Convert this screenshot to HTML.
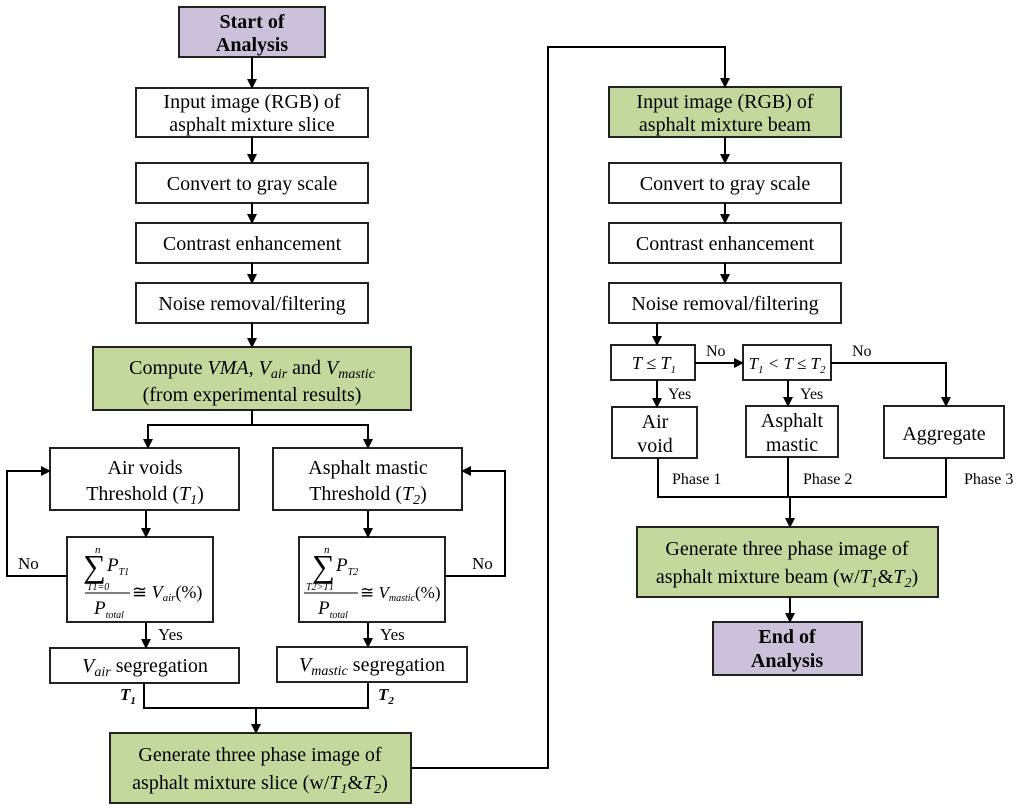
<!DOCTYPE html>
<html><head><meta charset="utf-8"><style>
html,body{margin:0;padding:0;background:#fff}
svg{display:block}
text{font-family:"Liberation Serif",serif;font-size:20px;fill:#000}
.i{font-style:italic}
</style></head><body>
<svg width="1024" height="808" viewBox="0 0 1024 808">
<defs><marker id="a" markerWidth="10" markerHeight="10" refX="9" refY="5" orient="auto" markerUnits="userSpaceOnUse"><path d="M0,0 L10,5 L0,10 z" fill="#000"/></marker></defs>
<g stroke="#222" stroke-width="2" fill="#fff">
<rect x="179" y="7" width="146" height="50" fill="#ccc1db"/>
<rect x="136" y="88" width="232" height="49"/>
<rect x="136" y="163" width="232" height="40"/>
<rect x="136" y="223" width="232" height="40"/>
<rect x="136" y="283" width="232" height="40"/>
<rect x="93" y="347" width="318" height="63" fill="#c4d79c"/>
<rect x="50" y="448" width="189" height="62"/>
<rect x="273" y="448" width="189" height="62"/>
<rect x="67" y="537" width="146" height="85"/>
<rect x="299" y="537" width="146" height="85"/>
<rect x="50" y="648" width="189" height="35"/>
<rect x="277" y="647" width="190" height="35"/>
<rect x="110" y="733" width="301" height="70" fill="#c4d79c"/>
<rect x="609" y="87" width="232" height="50" fill="#c4d79c"/>
<rect x="609" y="163" width="232" height="40"/>
<rect x="609" y="223" width="232" height="40"/>
<rect x="609" y="283" width="232" height="40"/>
<rect x="611" y="345" width="84" height="35"/>
<rect x="743" y="345" width="88" height="35"/>
<rect x="612" y="407" width="85" height="51"/>
<rect x="746" y="406" width="92" height="51"/>
<rect x="884" y="406" width="120" height="52"/>
<rect x="637" y="527" width="301" height="70" fill="#c4d79c"/>
<rect x="713" y="622" width="149" height="53" fill="#ccc1db"/>
</g>
<g stroke="#000" stroke-width="2" fill="none">
<path d="M252 57V88" marker-end="url(#a)"/>
<path d="M252 137V163" marker-end="url(#a)"/>
<path d="M252 203V223" marker-end="url(#a)"/>
<path d="M252 263V283" marker-end="url(#a)"/>
<path d="M252 323V347" marker-end="url(#a)"/>
<path d="M252 410V425H148V448" marker-end="url(#a)"/>
<path d="M252 425H368V448" marker-end="url(#a)"/>
<path d="M146 510V537" marker-end="url(#a)"/>
<path d="M368 510V537" marker-end="url(#a)"/>
<path d="M146 622V648" marker-end="url(#a)"/>
<path d="M368 622V647" marker-end="url(#a)"/>
<path d="M67 576H7V471H50" marker-end="url(#a)"/>
<path d="M445 576H505V471H462" marker-end="url(#a)"/>
<path d="M144 683V708H368V682"/>
<path d="M256 708V733" marker-end="url(#a)"/>
<path d="M411 768H548V47H725V87" marker-end="url(#a)"/>
<path d="M725 137V163" marker-end="url(#a)"/>
<path d="M725 203V223" marker-end="url(#a)"/>
<path d="M725 263V283" marker-end="url(#a)"/>
<path d="M657 323V345" marker-end="url(#a)"/>
<path d="M695 363H743" marker-end="url(#a)"/>
<path d="M657 380V407" marker-end="url(#a)"/>
<path d="M788 380V406" marker-end="url(#a)"/>
<path d="M831 363H946V406" marker-end="url(#a)"/>
<path d="M658 458V497H946V458"/>
<path d="M788 457V497"/>
<path d="M790 497V527" marker-end="url(#a)"/>
<path d="M790 597V622" marker-end="url(#a)"/>
</g>
<g text-anchor="middle">
<text x="252" y="28" font-weight="bold">Start of</text>
<text x="252" y="51" font-weight="bold">Analysis</text>
<text x="252" y="108">Input image (RGB) of</text>
<text x="252" y="131">asphalt mixture slice</text>
<text x="252" y="190">Convert to gray scale</text>
<text x="252" y="250">Contrast enhancement</text>
<text x="252" y="310">Noise removal/filtering</text>
<text x="252" y="374">Compute <tspan class="i">VMA</tspan>, <tspan class="i">V<tspan font-size="14" dy="4">air</tspan></tspan><tspan dy="-4"> and </tspan><tspan class="i">V<tspan font-size="14" dy="4">mastic</tspan></tspan></text>
<text x="252" y="401">(from experimental results)</text>
<text x="145" y="474">Air voids</text>
<text x="145" y="500">Threshold (<tspan class="i">T<tspan font-size="14" dy="4">1</tspan></tspan><tspan dy="-4">)</tspan></text>
<text x="368" y="474">Asphalt mastic</text>
<text x="368" y="500">Threshold (<tspan class="i">T<tspan font-size="14" dy="4">2</tspan></tspan><tspan dy="-4">)</tspan></text>
<text x="145" y="672"><tspan class="i">V<tspan font-size="14" dy="4">air</tspan></tspan><tspan dy="-4"> segregation</tspan></text>
<text x="372" y="671"><tspan class="i">V<tspan font-size="14" dy="4">mastic</tspan></tspan><tspan dy="-4"> segregation</tspan></text>
<text x="260" y="761">Generate three phase image of</text>
<text x="260" y="789">asphalt mixture slice (w/<tspan class="i">T<tspan font-size="14" dy="4">1</tspan></tspan><tspan dy="-4">&amp;</tspan><tspan class="i">T<tspan font-size="14" dy="4">2</tspan></tspan><tspan dy="-4">)</tspan></text>
<text x="725" y="108">Input image (RGB) of</text>
<text x="725" y="131">asphalt mixture beam</text>
<text x="725" y="190">Convert to gray scale</text>
<text x="725" y="250">Contrast enhancement</text>
<text x="725" y="310">Noise removal/filtering</text>
<text x="654" y="369" class="i" style="font-size:18px">T ≤ T<tspan font-size="11" dy="4">1</tspan></text>
<text x="787" y="369" class="i" style="font-size:17px">T<tspan font-size="11" dy="4">1</tspan><tspan dy="-4"> &lt; T ≤ T</tspan><tspan font-size="11" dy="4">2</tspan></text>
<text x="655" y="428">Air</text>
<text x="655" y="452">void</text>
<text x="792" y="427">Asphalt</text>
<text x="792" y="451">mastic</text>
<text x="944" y="440">Aggregate</text>
<text x="787" y="555">Generate three phase image of</text>
<text x="787" y="583">asphalt mixture beam (w/<tspan class="i">T<tspan font-size="14" dy="4">1</tspan></tspan><tspan dy="-4">&amp;</tspan><tspan class="i">T<tspan font-size="14" dy="4">2</tspan></tspan><tspan dy="-4">)</tspan></text>
<text x="787" y="643" font-weight="bold">End of</text>
<text x="787" y="667" font-weight="bold">Analysis</text>
</g>
<g>
<text x="18" y="569" style="font-size:17px">No</text>
<text x="472" y="569" style="font-size:17px">No</text>
<text x="158" y="640" style="font-size:17px">Yes</text>
<text x="380" y="640" style="font-size:17px">Yes</text>
<text x="706" y="356" style="font-size:16px">No</text>
<text x="852" y="356" style="font-size:16px">No</text>
<text x="668" y="399" style="font-size:16px">Yes</text>
<text x="800" y="399" style="font-size:16px">Yes</text>
<text x="672" y="484" style="font-size:16px">Phase 1</text>
<text x="803" y="484" style="font-size:16px">Phase 2</text>
<text x="964" y="484" style="font-size:16px">Phase 3</text>
<text x="120" y="700" class="i" font-weight="bold" style="font-size:17px">T<tspan font-size="11" dy="4">1</tspan></text>
<text x="378" y="700" class="i" font-weight="bold" style="font-size:17px">T<tspan font-size="11" dy="4">2</tspan></text>
</g>
<g>
<text x="83" y="577" style="font-size:32px">∑</text>
<text x="95" y="553" class="i" style="font-size:11px">n</text>
<text x="107" y="571" class="i" style="font-size:19px">P<tspan font-size="10" dy="4">T1</tspan></text>
<text x="87" y="590" class="i" style="font-size:10px">T1=0</text>
<line x1="85" y1="593" x2="130" y2="593" stroke="#000" stroke-width="1"/>
<text x="94" y="614" class="i" style="font-size:19px">P<tspan font-size="10" dy="4">total</tspan></text>
<text x="132" y="598" style="font-size:18px">≅ <tspan class="i">V<tspan font-size="11" dy="3">air</tspan></tspan><tspan dy="-3">(%)</tspan></text>
<text x="312" y="577" style="font-size:32px">∑</text>
<text x="324" y="553" class="i" style="font-size:11px">n</text>
<text x="336" y="571" class="i" style="font-size:19px">P<tspan font-size="10" dy="4">T2</tspan></text>
<text x="306" y="590" class="i" style="font-size:10px">T2&gt;T1</text>
<line x1="304" y1="593" x2="358" y2="593" stroke="#000" stroke-width="1"/>
<text x="318" y="614" class="i" style="font-size:19px">P<tspan font-size="10" dy="4">total</tspan></text>
<text x="360" y="598" style="font-size:17px">≅ <tspan class="i">V<tspan font-size="10" dy="3">mastic</tspan></tspan><tspan dy="-3">(%)</tspan></text>
</g>
</svg>
</body></html>
